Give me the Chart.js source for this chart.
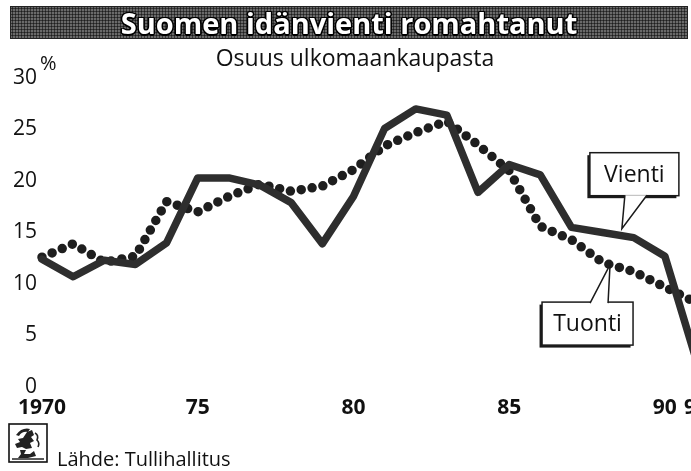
<!DOCTYPE html>
<html><head><meta charset="utf-8">
<script src="https://cdn.jsdelivr.net/npm/chart.js@4.4.1/dist/chart.umd.min.js"></script>
<style>
html,body{margin:0;padding:0;background:#fff;overflow:hidden;width:691px;height:471px;}
#wrap{position:relative;width:691px;height:471px;overflow:hidden;font-family:"Open Sans",sans-serif;color:#111;}
#c{position:absolute;left:0;top:0;}
#title{position:absolute;left:10px;top:6px;width:678px;height:33px;box-sizing:border-box;border:1px solid #222;
 background-color:#6a6a6a;background-image:radial-gradient(circle,#1e1e1e 0.9px,transparent 1.2px);background-size:3px 3px;
 color:#fff;font-weight:700;font-size:29px;line-height:31px;text-align:center;white-space:nowrap;
 text-shadow:-1px -1px 0 #000,1px -1px 0 #000,-1px 1px 0 #000,1px 1px 0 #000,0 1.5px 0 #000,1.5px 0 0 #000,0 -1.5px 0 #000,-1.5px 0 0 #000;}
#sub{position:absolute;left:0;top:42px;width:710px;text-align:center;font-size:23px;line-height:30px;white-space:nowrap;}
#pct{position:absolute;left:40px;top:49px;font-size:20px;line-height:27px;}
#src{position:absolute;left:57px;top:445px;font-size:20px;line-height:27px;white-space:nowrap;}
#icon{position:absolute;left:8px;top:423px;}
</style></head>
<body><div id="wrap">
<canvas id="c" width="720" height="471"></canvas>
<div id="title">Suomen idänvienti romahtanut</div>
<div id="sub">Osuus ulkomaankaupasta</div>
<div id="pct">%</div>
<svg id="icon" width="40" height="40" viewBox="0 0 40 40">
 <rect x="1" y="1" width="38" height="38" fill="#fff" stroke="#111" stroke-width="1.6"/>
 <path d="M8 12 Q14 4 22 6 L20 9 Q14 8 11 13 Z" fill="#222"/>
 <path d="M19 9 L24 7 L26 12 L23 14 L26 18 L22 20 L24 25 L18 26 L14 24 L9 25 L7 21 L12 19 L10 16 L15 15 Z" fill="#222"/>
 <path d="M27 10 Q31 12 29 17 Q32 20 30 24" stroke="#222" stroke-width="1.6" fill="none"/>
 <path d="M12 27 L18 27 L16 31 L22 31 L26 28 L28 33 L20 35 L10 35 L13 31 Z" fill="#222"/>
 <path d="M4 36 L36 36" stroke="#222" stroke-width="1.5"/>
</svg>
<div id="src">Lähde: Tullihallitus</div>
</div>
<script>
const years = [1970,1971,1972,1973,1974,1975,1976,1977,1978,1979,1980,1981,1982,1983,1984,1985,1986,1987,1988,1989,1990,1991];
const vienti = [12.4,10.7,12.3,11.9,14.0,20.3,20.3,19.6,17.9,13.9,18.5,25.1,27.0,26.4,18.9,21.6,20.6,15.5,15.0,14.5,12.7,2.7];
const tuonti = [12.6,13.9,12.1,12.7,18.0,17.0,18.5,19.7,19.0,19.5,21.1,23.4,24.7,25.8,23.5,21.0,15.6,14.3,12.1,11.2,9.7,8.2];
const xTickYears = [1970,1975,1980,1985,1990,1991];
const xTickLabels = ['1970','75','80','85','90','91'];
const seriesNames = ['Vienti','Tuonti'];

const FONT = 'Open Sans';

const calloutPlugin = {
  id: 'callouts',
  afterDatasetsDraw(chart) {
    const ctx = chart.ctx, xs = chart.scales.x;
    function pointAt(di, year) {
      const pts = chart.getDatasetMeta(di).data;
      const px = xs.getPixelForValue(year);
      for (let i = 0; i < pts.length - 1; i++) {
        if (px >= pts[i].x && px <= pts[i+1].x) {
          const t = (px - pts[i].x) / (pts[i+1].x - pts[i].x);
          return {x: px, y: pts[i].y + t * (pts[i+1].y - pts[i].y)};
        }
      }
      return {x: px, y: pts[pts.length-1].y};
    }
    function drawBox(l, t, w, h, text) {
      ctx.save();
      ctx.fillStyle = '#1a1a1a';
      ctx.fillRect(l - 2.5, t + 2.5, w, h);
      ctx.fillStyle = '#fff';
      ctx.fillRect(l, t, w, h);
      ctx.strokeStyle = '#1a1a1a';
      ctx.lineWidth = 1.5;
      ctx.strokeRect(l, t, w, h);
      ctx.fillStyle = '#111';
      ctx.font = '23px "' + FONT + '"';
      ctx.textAlign = 'center';
      ctx.textBaseline = 'middle';
      ctx.fillText(text, l + w / 2, t + h / 2 + 1);
      ctx.restore();
    }
    function pointer(tx, ty, ax, bx, by) {
      ctx.save();
      ctx.beginPath();
      ctx.moveTo(ax, by); ctx.lineTo(tx, ty); ctx.lineTo(bx, by); ctx.closePath();
      ctx.fillStyle = '#fff'; ctx.fill();
      ctx.beginPath();
      ctx.moveTo(ax, by); ctx.lineTo(tx, ty); ctx.lineTo(bx, by);
      ctx.strokeStyle = '#1a1a1a'; ctx.lineWidth = 1.5; ctx.stroke();
      ctx.restore();
    }
    const v = pointAt(0, 1988.62);
    drawBox(v.x - 32, v.y - 83, 89, 43, seriesNames[0]);
    pointer(v.x, v.y - 7, v.x + 3, v.x + 25, v.y - 40.5);
    const tu = pointAt(1, 1988.24);
    drawBox(tu.x - 68, tu.y + 37.5, 91, 43, seriesNames[1]);
    pointer(tu.x, tu.y, tu.x - 20, tu.x - 2, tu.y + 38.5);
  }
};

new Chart(document.getElementById('c'), {
  type: 'line',
  data: {
    datasets: [
      {label: seriesNames[0], data: years.map((y, i) => ({x: y, y: vienti[i]})),
       borderColor: '#2e2e2e', borderWidth: 7.5, pointRadius: 0, tension: 0,
       borderJoinStyle: 'round', borderCapStyle: 'round', clip: 10},
      {label: seriesNames[1], data: years.map((y, i) => ({x: y, y: tuonti[i]})),
       borderColor: '#1e1e1e', borderWidth: 9.5, pointRadius: 0, tension: 0,
       borderDash: [0, 11], borderCapStyle: 'round', borderJoinStyle: 'round', clip: 10}
    ]
  },
  options: {
    responsive: false, animation: false, devicePixelRatio: 1,
    layout: {padding: {top: 78, right: 24, left: 0, bottom: 0}},
    plugins: {legend: {display: false}, tooltip: {enabled: false}},
    scales: {
      x: {type: 'linear', min: 1970, max: 1991,
          grid: {display: false, drawTicks: false}, border: {display: false},
          afterBuildTicks: (s) => { s.ticks = xTickYears.map(v => ({value: v})); },
          afterFit: (s) => { s.height = 84; },
          ticks: {autoSkip: false, maxRotation: 0, padding: 8, color: '#111',
                  font: {family: FONT, size: 21, weight: 'bold'},
                  callback: (v, i) => xTickLabels[i]}},
      y: {min: 0, max: 30,
          grid: {display: false, drawTicks: false}, border: {display: false},
          afterFit: (s) => { s.width = 42; },
          ticks: {stepSize: 5, padding: 5, color: '#111', font: {family: FONT, size: 21}}}
    }
  },
  plugins: [calloutPlugin]
});
</script>
</body></html>
